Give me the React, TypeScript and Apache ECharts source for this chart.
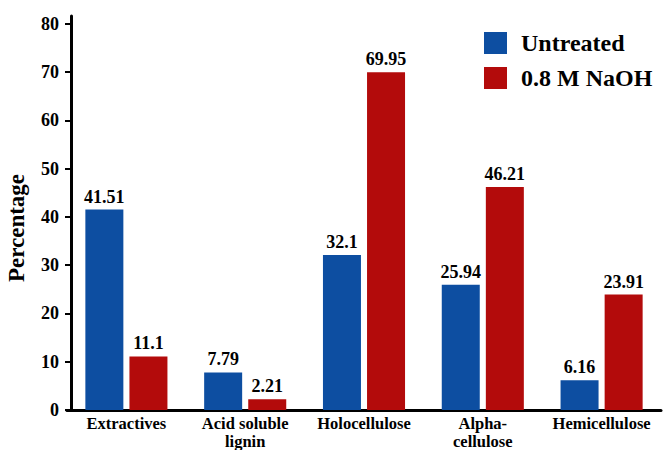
import React, { useEffect, useRef } from "react";
import * as echarts from "echarts";

const categories = ["Extractives", "Acid soluble\nlignin", "Holocellulose", "Alpha-\ncellulose", "Hemicellulose"];
const untreated = [41.51, 7.79, 32.1, 25.94, 6.16];
const naoh = [11.1, 2.21, 69.95, 46.21, 23.91];
const yTicks = [0, 10, 20, 30, 40, 50, 60, 70, 80];

const FONT = "'Liberation Serif', 'Times New Roman', serif";

export default function App() {
  const ref = useRef<HTMLDivElement>(null);
  useEffect(() => {
    const chart = echarts.init(ref.current!, null, { renderer: "svg" });
    chart.setOption({
      animation: false,
      backgroundColor: "#fff",
      grid: { left: 67, right: 5, top: 16, bottom: 39 },
      legend: {
        orient: "vertical",
        left: 479,
        top: 26,
        itemWidth: 23,
        itemHeight: 22,
        itemGap: 11,
        icon: "rect",
        textStyle: { fontFamily: FONT, fontWeight: "bold", fontSize: 24, color: "#000", padding: [0, 0, 0, 9] },
        data: ["Untreated", "0.8 M NaOH"],
      },
      graphic: [
        {
          type: "text",
          x: 16,
          y: 228,
          rotation: Math.PI / 2,
          style: {
            text: "Percentage",
            fontFamily: FONT,
            fontWeight: "bold",
            fontSize: 23,
            fill: "#000",
            align: "center",
            verticalAlign: "middle",
          },
        },
      ],
      xAxis: {
        type: "category",
        data: categories,
        axisLine: { lineStyle: { color: "#000", width: 3 } },
        axisTick: { show: false },
        axisLabel: {
          fontFamily: FONT,
          fontWeight: "bold",
          fontSize: 16.5,
          color: "#000",
          margin: 4,
          lineHeight: 18,
          interval: 0,
        },
      },
      yAxis: {
        type: "value",
        min: 0,
        max: 81.6,
        offset: -4,
        axisLine: { show: true, lineStyle: { color: "#000", width: 3 } },
        axisTick: { show: true, length: 6, customValues: yTicks, lineStyle: { color: "#000", width: 2 } },
        splitLine: { show: false },
        axisLabel: { customValues: yTicks, fontFamily: FONT, fontWeight: "bold", fontSize: 18, color: "#000", margin: 12 },
      },
      series: [
        {
          name: "Untreated",
          type: "bar",
          data: untreated,
          barWidth: 38,
          barGap: "16%",
          itemStyle: { color: "#0D4EA1" },
          label: { show: true, position: "top", distance: 4, fontFamily: FONT, fontWeight: "bold", fontSize: 18, color: "#000" },
        },
        {
          name: "0.8 M NaOH",
          type: "bar",
          data: naoh,
          barWidth: 38,
          itemStyle: { color: "#B30B0B" },
          label: { show: true, position: "top", distance: 4, fontFamily: FONT, fontWeight: "bold", fontSize: 18, color: "#000" },
        },
      ],
    });
    return () => chart.dispose();
  }, []);
  return <div ref={ref} style={{ position: "absolute", left: 0, top: 0, width: 666, height: 450 }} />;
}
